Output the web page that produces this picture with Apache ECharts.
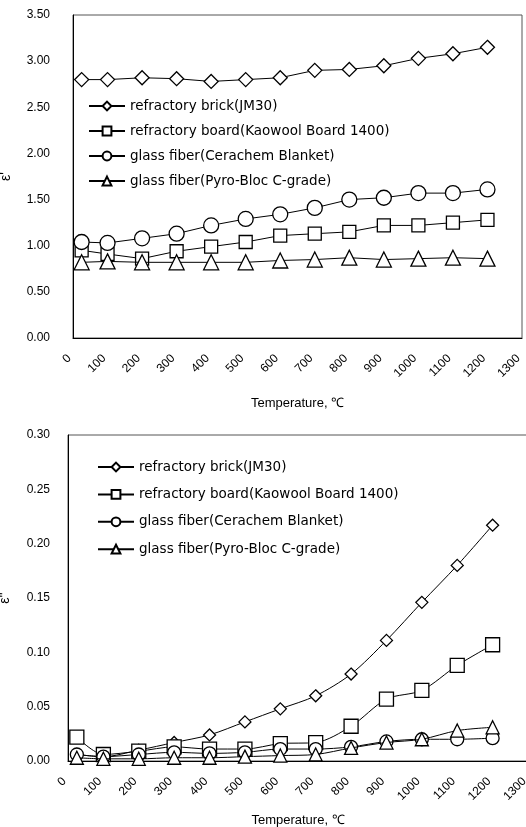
<!DOCTYPE html>
<html>
<head>
<meta charset="utf-8">
<script src="https://cdn.jsdelivr.net/npm/echarts@6/dist/echarts.min.js"></script>
<style>
html,body{margin:0;padding:0;background:#fff;}
#c{width:526px;height:827px;}
</style>
</head>
<body>
<div id="c"></div>
<script>
const temps = [25,100,200,300,400,500,600,700,800,900,1000,1100,1200];
const names = ['refractory brick(JM30)','refractory board(Kaowool Board 1400)','glass fiber(Cerachem Blanket)','glass fiber(Pyro-Bloc C-grade)'];
const symbols = ['diamond','rect','circle','triangle'];

// epsilon' (top chart)
const brickReal = [2.80,2.80,2.82,2.81,2.78,2.80,2.82,2.90,2.91,2.95,3.03,3.08,3.15];
const boardReal = [0.95,0.91,0.86,0.94,0.99,1.04,1.11,1.13,1.15,1.22,1.22,1.25,1.28];
const cerachemReal = [1.04,1.03,1.08,1.13,1.22,1.29,1.34,1.41,1.50,1.52,1.57,1.57,1.61];
const pyroReal = [0.82,0.83,0.82,0.82,0.82,0.82,0.84,0.85,0.87,0.85,0.86,0.87,0.86];

// epsilon'' (bottom chart)
const brickImag = [0.006,0.004,0.010,0.017,0.024,0.036,0.048,0.060,0.080,0.111,0.146,0.180,0.217];
const boardImag = [0.022,0.006,0.009,0.013,0.011,0.011,0.016,0.017,0.032,0.057,0.065,0.088,0.107];
const cerachemImag = [0.006,0.004,0.006,0.008,0.007,0.008,0.011,0.011,0.013,0.018,0.020,0.020,0.021];
const pyroImag = [0.003,0.002,0.002,0.003,0.003,0.004,0.005,0.006,0.012,0.017,0.020,0.028,0.031];

const FONT = 'Liberation Sans';
const LEGEND_FONT = 'DejaVu Sans';
const topSets = [brickReal, boardReal, cerachemReal, pyroReal];
const botSets = [brickImag, boardImag, cerachemImag, pyroImag];
const topSizes = [14, 13, 15, 15];
const botSizes = [12, 14, 13, 13];

function pairs(vals){ return vals.map((v,i)=>[temps[i], v]); }

const series = [];
topSets.forEach((vals,i)=>{
  series.push({
    name: names[i], type:'line', xAxisIndex:0, yAxisIndex:0,
    data: pairs(vals), symbol: symbols[i], symbolSize: topSizes[i],
    showAllSymbol: true,
    lineStyle:{color:'#000', width:1},
    itemStyle:{color:'#fff', borderColor:'#000', borderWidth:1.3},
    z: 3 + i
  });
});
botSets.forEach((vals,i)=>{
  series.push({
    name: names[i], type:'line', xAxisIndex:1, yAxisIndex:1,
    data: pairs(vals), symbol: symbols[i], symbolSize: botSizes[i],
    smooth: 0.3, showAllSymbol: true,
    lineStyle:{color:'#000', width:1},
    itemStyle:{color:'#fff', borderColor:'#000', borderWidth:1.3},
    z: 3 + i
  });
});

function xAxis(gridIndex, gap){
  return {
    type:'value', gridIndex, min:0, max:1300, interval:100,
    name:'Temperature, \u2103', nameLocation:'middle', nameGap:gap,
    nameTextStyle:{color:'#000', fontSize:13, fontFamily:FONT},
    axisLine:{show:true, lineStyle:{color:'#000', width:1}},
    axisTick:{show:false},
    splitLine:{show:false},
    axisLabel:{rotate:45, margin:15, color:'#000', fontSize:12, fontFamily:FONT,
      padding:[0,5,0,0], formatter:(v)=>String(v)}
  };
}
function yAxis(gridIndex, max, interval, name, margin, gap){
  return {
    type:'value', gridIndex, min:0, max, interval,
    name, nameLocation:'middle', nameGap:gap, nameRotate:90,
    nameTextStyle:{color:'#000', fontSize:14, fontFamily:FONT},
    axisLine:{show:true, lineStyle:{color:'#000', width:1}},
    axisTick:{show:false},
    splitLine:{show:false},
    axisLabel:{margin, color:'#000', fontSize:12, fontFamily:FONT,
      formatter:(v)=>v.toFixed(2)}
  };
}

const legendBase = {
  orient:'vertical', itemWidth:36, itemHeight:11, padding:0,
  textStyle:{color:'#000', fontSize:13.5, fontFamily:LEGEND_FONT, lineHeight:14},
  data: names, selectedMode:false
};

const chart = echarts.init(document.getElementById('c'), null, {renderer:'canvas'});
chart.setOption({
  backgroundColor:'#fff',
  animation:false,
  grid:[
    {left:73, top:15, width:449, height:323, show:true, borderColor:'#555', borderWidth:1,
     backgroundColor:'transparent', outerBoundsMode:'none', containLabel:false},
    {left:68, top:435, width:460, height:326, show:true, borderColor:'#555', borderWidth:1,
     backgroundColor:'transparent', outerBoundsMode:'none', containLabel:false}
  ],
  legend:[
    Object.assign({}, legendBase, {left:88, top:99, itemGap:11}),
    Object.assign({}, legendBase, {left:97, top:460, itemGap:13.4})
  ],
  xAxis:[xAxis(0, 59), xAxis(1, 53)],
  yAxis:[yAxis(0, 3.5, 0.5, "\u03b5'", 23, 60), yAxis(1, 0.3, 0.05, "\u03b5''", 18, 56)],
  series
});
</script>
</body>
</html>
